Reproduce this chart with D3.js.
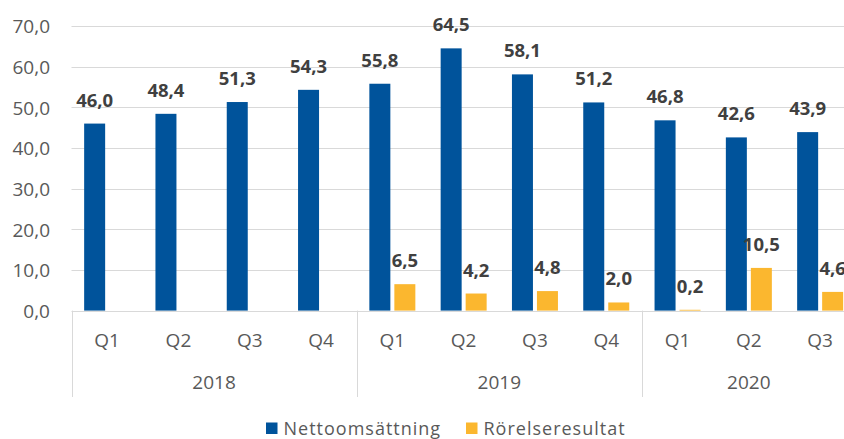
<!DOCTYPE html>
<html>
<head>
<meta charset="utf-8">
<script src="https://cdn.jsdelivr.net/npm/d3@7"></script>
<style>
  html, body { margin: 0; padding: 0; background: #fff; }
  svg { display: block; font-family: "Open Sans", sans-serif; }
</style>
</head>
<body>
<div id="chart"></div>
<script>
// data
var quarters = ["Q1", "Q2", "Q3", "Q4", "Q1", "Q2", "Q3", "Q4", "Q1", "Q2", "Q3"];
var yearOf = ["2018", "2018", "2018", "2018", "2019", "2019", "2019", "2019", "2020", "2020", "2020"];
var years = ["2018", "2019", "2020"];
var netSales = [46.0, 48.4, 51.3, 54.3, 55.8, 64.5, 58.1, 51.2, 46.8, 42.6, 43.9];
var opResult = [null, null, null, null, 6.5, 4.2, 4.8, 2.0, 0.2, 10.5, 4.6];
var seriesNames = ["Nettoomsättning", "Rörelseresultat"];
var seriesColors = ["#00539B", "#FBB72F"];
var yTicks = [0, 10, 20, 30, 40, 50, 60, 70];

var width = 844, height = 439;
var left = 71.5, step = 71.3;
var y0 = 310.6, yTop = 26;

var svg = d3.select("#chart").append("svg")
    .attr("width", width)
    .attr("height", height);

var idx = d3.range(quarters.length);

var x = d3.scaleBand()
    .domain(idx)
    .range([left, left + step * idx.length])
    .padding(0);

var xs = d3.scaleBand()
    .domain([0, 1])
    .range([12.65, 58.65])
    .paddingInner(0.16)
    .paddingOuter(0);

var y = d3.scaleLinear()
    .domain([0, 70])
    .range([y0, yTop]);

var fmt = function(v) { return d3.format(".1f")(v).replace(".", ","); };

// gridlines
svg.append("g").selectAll("line")
    .data(yTicks.filter(function(d) { return d > 0; }))
    .enter().append("line")
    .attr("x1", left).attr("x2", width)
    .attr("y1", function(d) { return Math.round(y(d)) + 0.5; })
    .attr("y2", function(d) { return Math.round(y(d)) + 0.5; })
    .attr("stroke", "#d9d9d9")
    .attr("stroke-width", 1);

// y axis labels
var yAxis = d3.axisLeft(y).tickValues(yTicks).tickFormat(fmt).tickSize(0).tickPadding(0);
var ya = svg.append("g")
    .attr("transform", "translate(50,0)")
    .call(yAxis);
ya.select(".domain").remove();
ya.selectAll("text")
    .attr("font-family", "Open Sans")
    .attr("font-size", "19px")
    .attr("fill", "#595959")
    .attr("dy", "0.36em");

// bars
var series = [netSales, opResult];
series.forEach(function(vals, s) {
    var pts = idx.filter(function(i) { return vals[i] != null; });
    var g = svg.append("g").attr("class", "series" + s);

    g.selectAll("rect")
        .data(pts)
        .enter().append("rect")
        .attr("x", function(i) { return x(i) + xs(s); })
        .attr("width", xs.bandwidth())
        .attr("y", function(i) { return y(vals[i]); })
        .attr("height", function(i) { return y0 - y(vals[i]); })
        .attr("fill", seriesColors[s]);

    g.selectAll("text")
        .data(pts)
        .enter().append("text")
        .attr("x", function(i) { return x(i) + xs(s) + xs.bandwidth() / 2; })
        .attr("y", function(i) { return y(vals[i]) - 17; })
        .attr("text-anchor", "middle")
        .attr("font-size", "18.5px")
        .attr("font-weight", "bold")
        .attr("fill", "#404040")
        .text(function(i) { return fmt(vals[i]); });
});

// category axis
svg.append("line")
    .attr("x1", left).attr("x2", width)
    .attr("y1", Math.round(y0) + 0.5).attr("y2", Math.round(y0) + 0.5)
    .attr("stroke", "#d9d9d9");

svg.append("g").selectAll("text")
    .data(idx)
    .enter().append("text")
    .attr("x", function(i) { return x(i) + x.bandwidth() / 2; })
    .attr("y", 346.6)
    .attr("text-anchor", "middle")
    .attr("font-size", "19px")
    .attr("fill", "#595959")
    .text(function(i) { return quarters[i]; });

var groups = years.map(function(yr) {
    var ii = idx.filter(function(i) { return yearOf[i] == yr; });
    return { year: yr, start: x(ii[0]), end: x(ii[ii.length - 1]) + x.bandwidth() };
});

svg.append("g").selectAll("line")
    .data(groups)
    .enter().append("line")
    .attr("x1", function(d) { return Math.round(d.start) + 0.5; })
    .attr("x2", function(d) { return Math.round(d.start) + 0.5; })
    .attr("y1", y0).attr("y2", 397)
    .attr("stroke", "#d9d9d9");

svg.append("g").selectAll("text")
    .data(groups)
    .enter().append("text")
    .attr("x", function(d) { return (d.start + d.end) / 2; })
    .attr("y", 389.3)
    .attr("text-anchor", "middle")
    .attr("font-size", "19px")
    .attr("fill", "#595959")
    .text(function(d) { return d.year; });

// legend
var legendX = [266, 466];
var leg = svg.append("g").selectAll("g")
    .data(seriesNames)
    .enter().append("g")
    .attr("transform", function(d, i) { return "translate(" + legendX[i] + ",422.5)"; });

leg.append("rect")
    .attr("width", 11.5).attr("height", 11.5)
    .attr("fill", function(d, i) { return seriesColors[i]; });

leg.append("text")
    .attr("x", 17.5)
    .attr("y", 12)
    .attr("font-size", "18px")
    .attr("letter-spacing", "1px")
    .attr("fill", "#595959")
    .text(function(d) { return d; });
</script>
</body>
</html>
